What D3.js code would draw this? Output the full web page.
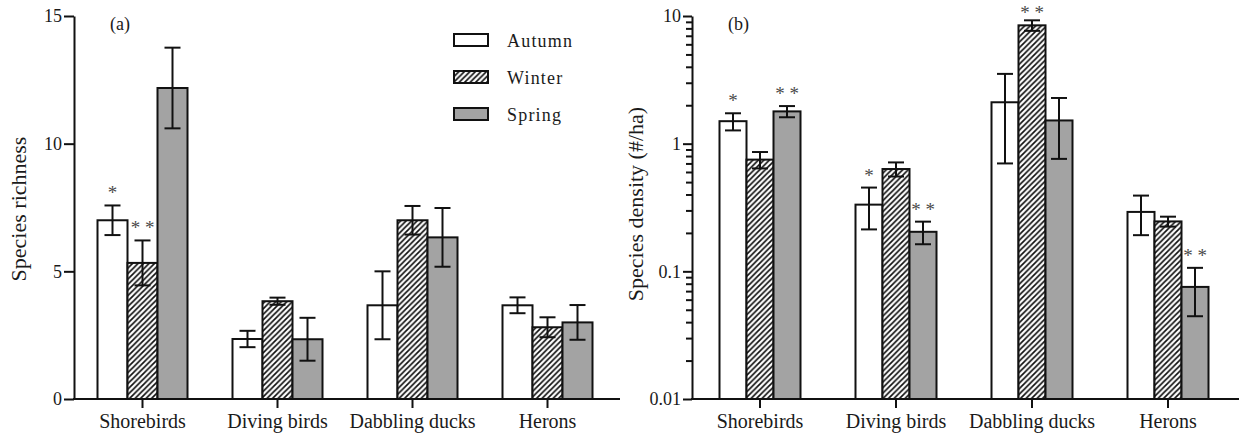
<!DOCTYPE html>
<html>
<head>
<meta charset="utf-8">
<script src="https://cdn.jsdelivr.net/npm/d3@7"></script>
<style>
  body { margin: 0; background: #fff; }
  svg text { font-family: "Liberation Serif", "DejaVu Serif", serif; fill: #1a1a1a; }
</style>
</head>
<body>
<div id="chart"></div>
<script>
"use strict";

// categories and series
var categories = ["Shorebirds", "Diving birds", "Dabbling ducks", "Herons"];
var seasons = ["Autumn", "Winter", "Spring"];

// (a) species richness, mean and SE
var richAutumn = [7.0, 2.35, 3.67, 3.67];
var richAutumnSE = [0.58, 0.32, 1.33, 0.31];
var richWinter = [5.33, 3.83, 7.0, 2.81];
var richWinterSE = [0.88, 0.14, 0.56, 0.39];
var richSpring = [12.18, 2.34, 6.33, 3.0];
var richSpringSE = [1.58, 0.84, 1.15, 0.68];

// (b) species density (#/ha), mean and SE
var densAutumn = [1.50, 0.333, 2.11, 0.292];
var densAutumnSE = [0.23, 0.12, 1.41, 0.10];
var densWinter = [0.75, 0.633, 8.45, 0.246];
var densWinterSE = [0.11, 0.08, 0.8, 0.022];
var densSpring = [1.79, 0.204, 1.52, 0.0755];
var densSpringSE = [0.18, 0.041, 0.76, 0.031];

var richTicks = [0, 5, 10, 15];
var densTickLabels = ["0.01", "0.1", "1", "10"];

var richStars = [["Shorebirds", "Autumn", "*"], ["Shorebirds", "Winter", "* *"]];
var densStars = [
  ["Shorebirds", "Autumn", "*"], ["Shorebirds", "Spring", "* *"],
  ["Diving birds", "Autumn", "*"], ["Diving birds", "Spring", "* *"],
  ["Dabbling ducks", "Winter", "* *"], ["Herons", "Spring", "* *"]
];

function rows(means, ses) {
  var out = [];
  seasons.forEach(function(s, si) {
    categories.forEach(function(c, ci) {
      out.push({ cat: c, season: s, mean: means[si][ci], se: ses[si][ci] });
    });
  });
  return out;
}

var richData = rows([richAutumn, richWinter, richSpring], [richAutumnSE, richWinterSE, richSpringSE]);
var densData = rows([densAutumn, densWinter, densSpring], [densAutumnSE, densWinterSE, densSpringSE]);

var svg = d3.select("#chart").append("svg")
  .attr("width", 1239)
  .attr("height", 434);

// hatch for winter
var defs = svg.append("defs");
var pat = defs.append("pattern")
  .attr("id", "hatch")
  .attr("patternUnits", "userSpaceOnUse")
  .attr("width", 5.5)
  .attr("height", 5.5);
pat.append("rect").attr("width", 5.5).attr("height", 5.5).attr("fill", "#fff");
pat.append("path")
  .attr("d", "M0,5.5 L5.5,0 M-1.5,1.5 L1.5,-1.5 M4,7 L7,4")
  .attr("stroke", "#111")
  .attr("stroke-width", 1.7);

var fills = { Autumn: "#fff", Winter: "url(#hatch)", Spring: "#a3a3a3" };

function isMajor(v) {
  return densTickLabels.indexOf(String(+v.toPrecision(3))) >= 0;
}

function drawPanel(p) {
  var g = svg.append("g");

  var x0 = d3.scaleBand().domain(categories).range(p.band);
  var x1 = d3.scaleBand().domain(seasons).range([0, p.groupW]);
  var off = (x0.bandwidth() - p.groupW) / 2;

  // bars
  g.selectAll("rect.bar")
    .data(p.data)
    .enter().append("rect")
    .attr("class", "bar")
    .attr("x", function(d) { return x0(d.cat) + off + x1(d.season); })
    .attr("y", function(d) { return p.y(d.mean); })
    .attr("width", x1.bandwidth())
    .attr("height", function(d) { return p.y.range()[0] - p.y(d.mean); })
    .attr("fill", function(d) { return fills[d.season]; })
    .attr("stroke", "#111")
    .attr("stroke-width", 2);

  // error bars
  var cap = 8;
  var eb = g.selectAll("g.err")
    .data(p.data)
    .enter().append("g")
    .attr("class", "err")
    .attr("transform", function(d) {
      return "translate(" + (x0(d.cat) + off + x1(d.season) + x1.bandwidth() / 2) + ",0)";
    })
    .attr("stroke", "#111")
    .attr("stroke-width", 2);
  eb.append("line")
    .attr("y1", function(d) { return p.y(d.mean + d.se); })
    .attr("y2", function(d) { return p.y(d.mean - d.se); });
  eb.append("line")
    .attr("x1", -cap).attr("x2", cap)
    .attr("y1", function(d) { return p.y(d.mean + d.se); })
    .attr("y2", function(d) { return p.y(d.mean + d.se); });
  eb.append("line")
    .attr("x1", -cap).attr("x2", cap)
    .attr("y1", function(d) { return p.y(d.mean - d.se); })
    .attr("y2", function(d) { return p.y(d.mean - d.se); });

  // significance stars
  g.selectAll("text.star")
    .data(p.stars)
    .enter().append("text")
    .attr("class", "star")
    .attr("x", function(s) { return x0(s[0]) + off + x1(s[1]) + x1.bandwidth() / 2; })
    .attr("y", function(s) {
      var d = p.data.find(function(r) { return r.cat === s[0] && r.season === s[1]; });
      return Math.max(p.y(d.mean + d.se) - 6, 19);
    })
    .attr("text-anchor", "middle")
    .attr("font-size", 19)
    .style("fill", "#4a4a4a")
    .text(function(s) { return s[2]; });

  // y axis
  var ya = g.append("g")
    .attr("transform", "translate(" + p.axisX + ",0)")
    .call(p.yAxis);
  ya.select(".domain").attr("stroke", "#111").attr("stroke-width", 2);
  ya.selectAll(".tick line").attr("stroke", "#111").attr("stroke-width", 2);
  ya.selectAll(".tick text")
    .attr("font-family", "Liberation Serif")
    .attr("font-size", 18)
    .style("fill", "#1a1a1a");

  // x axis
  var xa = g.append("g")
    .attr("transform", "translate(0," + p.y.range()[0] + ")")
    .call(d3.axisBottom(x0).tickSize(9).tickPadding(6).tickSizeOuter(0));
  xa.select(".domain").remove();
  xa.append("line")
    .attr("x1", p.axisX - 1).attr("x2", p.axisEnd)
    .attr("stroke", "#111").attr("stroke-width", 2);
  xa.selectAll(".tick line").attr("stroke", "#111").attr("stroke-width", 2);
  xa.selectAll(".tick text")
    .attr("font-family", "Liberation Serif")
    .attr("font-size", 20)
    .style("fill", "#1a1a1a");

  // y title
  g.append("text")
    .attr("transform", "translate(" + p.titleX + "," + p.titleY + ") rotate(-90)")
    .attr("text-anchor", "middle")
    .attr("font-size", 22)
    .text(p.title);

  // panel label
  g.append("text")
    .attr("x", p.axisX + 36)
    .attr("y", 30)
    .attr("font-size", 18)
    .text(p.label);
}

// panel (a)
var yRich = d3.scaleLinear().domain([0, 15]).range([399, 16]);
drawPanel({
  data: richData,
  stars: richStars,
  y: yRich,
  yAxis: d3.axisLeft(yRich).tickValues(richTicks).tickSize(10).tickPadding(2).tickSizeOuter(0),
  band: [75, 615],
  groupW: 90,
  axisX: 74,
  axisEnd: 620,
  title: "Species richness",
  titleX: 26,
  titleY: 209,
  label: "(a)"
});

// panel (b)
var yDens = d3.scaleLog().domain([0.01, 10]).range([399, 16]);
var densAxis = d3.axisLeft(yDens)
  .tickValues(yDens.ticks())
  .tickSize(0)
  .tickPadding(2)
  .tickSizeOuter(0)
  .tickFormat(function(v) {
    return isMajor(v) ? String(+v.toPrecision(3)) : "";
  });
drawPanel({
  data: densData,
  stars: densStars,
  y: yDens,
  yAxis: function(sel) {
    sel.call(densAxis);
    sel.selectAll(".tick line").attr("x2", function(v) { return isMajor(v) ? -9 : -6; });
    sel.selectAll(".tick text").attr("x", function(v) { return isMajor(v) ? -11 : 0; });
  },
  band: [692, 1236],
  groupW: 81,
  axisX: 692,
  axisEnd: 1239,
  title: "Species density (#/ha)",
  titleX: 643,
  titleY: 204,
  label: "(b)"
});

// legend
var legend = svg.append("g");
var li = legend.selectAll("g")
  .data(seasons)
  .enter().append("g")
  .attr("transform", function(d, i) { return "translate(454," + (34 + i * 37) + ")"; });
li.append("rect")
  .attr("width", 34)
  .attr("height", 12)
  .attr("fill", function(d) { return fills[d]; })
  .attr("stroke", "#111")
  .attr("stroke-width", 2);
li.append("text")
  .attr("x", 53)
  .attr("y", 13)
  .attr("font-size", 18)
  .attr("letter-spacing", 1.2)
  .text(function(d) { return d; });
</script>
</body>
</html>
